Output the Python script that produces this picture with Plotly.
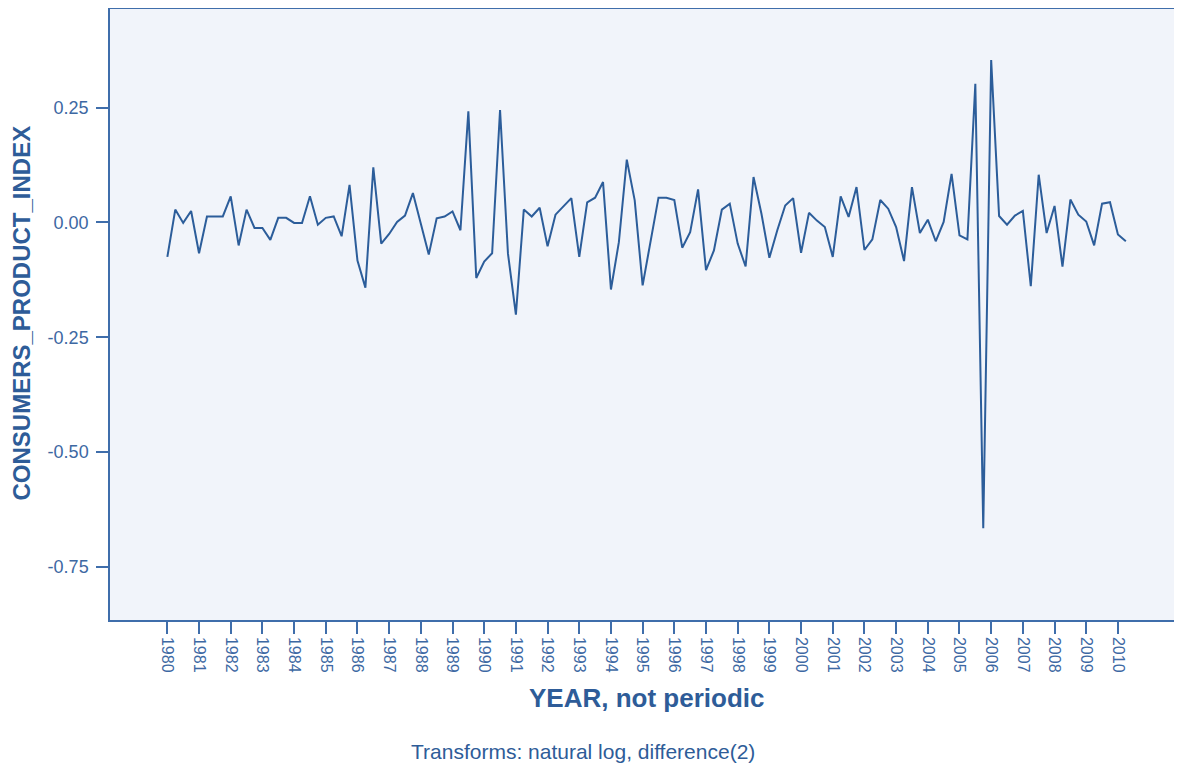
import plotly.graph_objects as go

start_year = 1980
periods_per_year = 4
values = [
    -0.075, 0.028, -0.001, 0.025, -0.067, 0.013, 0.013, 0.013, 0.057, -0.050,
    0.028, -0.012, -0.012, -0.038, 0.010, 0.010, -0.001, -0.001, 0.057, -0.005,
    0.010, 0.013, -0.030, 0.082, -0.083, -0.142, 0.120, -0.046, -0.025, 0.001,
    0.015, 0.064, -0.003, -0.070, 0.009, 0.013, 0.024, -0.017, 0.242, -0.121,
    -0.085, -0.067, 0.245, -0.068, -0.201, 0.028, 0.013, 0.032, -0.052, 0.017,
    0.035, 0.053, -0.075, 0.044, 0.054, 0.088, -0.146, -0.043, 0.137, 0.048,
    -0.137, -0.042, 0.054, 0.054, 0.049, -0.055, -0.021, 0.072, -0.104, -0.061,
    0.028, 0.041, -0.046, -0.096, 0.099, 0.019, -0.077, -0.017, 0.037, 0.053,
    -0.066, 0.021, 0.004, -0.010, -0.075, 0.057, 0.012, 0.077, -0.060, -0.037,
    0.049, 0.030, -0.010, -0.084, 0.077, -0.023, 0.006, -0.041, 0.001, 0.106,
    -0.028, -0.037, 0.302, -0.666, 0.354, 0.014, -0.005, 0.015, 0.025, -0.139,
    0.104, -0.023, 0.036, -0.096, 0.050, 0.017, 0.002, -0.050, 0.041, 0.044,
    -0.026, -0.041,
]
x_vals = [start_year + i / periods_per_year for i in range(len(values))]
year_ticks = list(range(1980, 2011))
year_labels = [str(y) for y in year_ticks]
y_ticks = [0.25, 0.0, -0.25, -0.5, -0.75]
y_labels = ["0.25", "0.00", "-0.25", "-0.50", "-0.75"]

line_color = "#2c5d9a"
text_color = "#2e5c98"
tick_text_color = "#3d68a3"
frame_color = "#3f6eab"
font_family = "Liberation Sans, Arial, sans-serif"

fig = go.Figure()
fig.add_trace(go.Scatter(x=x_vals, y=values, mode="lines",
                         line=dict(color=line_color, width=2), showlegend=False))

fig.update_layout(
    width=1166, height=758,
    margin=dict(l=102, r=0, t=1, b=146),
    paper_bgcolor="white",
    plot_bgcolor="#f1f4fa",
    font=dict(family=font_family, color=text_color, size=14),
    xaxis=dict(range=[1978.19, 2011.77], tickvals=year_ticks, ticktext=year_labels,
               tickangle=90, ticks="outside", ticklen=12, tickwidth=1.5,
               tickcolor=frame_color, showgrid=False, zeroline=False,
               showline=True, linecolor=frame_color, linewidth=1.5, mirror=True,
               tickfont=dict(size=16, color=tick_text_color)),
    yaxis=dict(range=[-0.866, 0.465], tickvals=y_ticks, ticktext=y_labels,
               ticks="outside", ticklen=12, tickwidth=1.5, tickcolor=frame_color,
               ticklabelstandoff=4,
               showgrid=False, zeroline=False, showline=True, linecolor=frame_color,
               linewidth=1.5, tickfont=dict(size=18, color=tick_text_color)),
    annotations=[
        dict(text="<b>CONSUMERS_PRODUCT_INDEX</b>", xref="paper", yref="paper",
             x=-0.0827, y=0.5016, textangle=-90,
             showarrow=False, xanchor="center", yanchor="middle",
             font=dict(size=24, color=text_color)),
        dict(text="<b>YEAR, not periodic</b>", xref="paper", yref="paper",
             x=0.504, y=-0.1277, showarrow=False, xanchor="center",
             yanchor="middle", font=dict(size=26, color=text_color)),
        dict(text="Transforms: natural log, difference(2)", xref="paper", yref="paper",
             x=0.4445, y=-0.2373, showarrow=False, xanchor="center",
             yanchor="bottom", font=dict(size=21, color=text_color)),
    ],
)

fig.write_html("out.html")
